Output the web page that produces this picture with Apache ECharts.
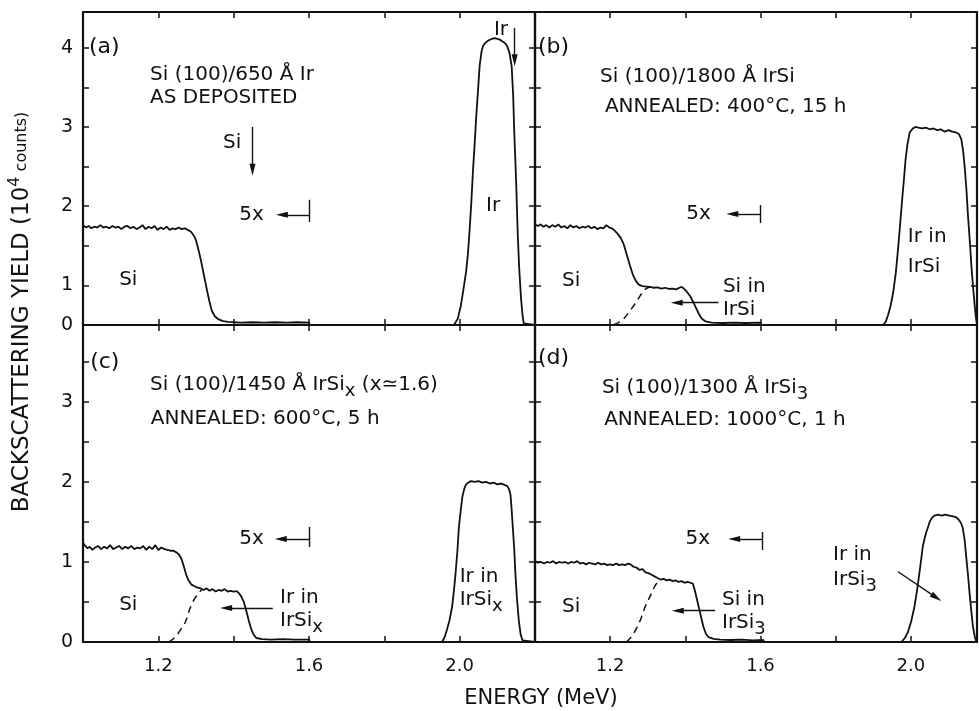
<!DOCTYPE html>
<html>
<head>
<meta charset="utf-8">
<script src="https://cdn.jsdelivr.net/npm/echarts@6/dist/echarts.min.js"></script>
<style>
  html, body { margin: 0; padding: 0; background: #fff; }
  #chart { width: 979px; height: 711px; }
</style>
</head>
<body>
<div id="chart"></div>
<script>
// ---- axis ticks / labels ----
var xTicks = [1.2, 1.4, 1.6, 1.8, 2.0];
var xLabels = [1.2, 1.6, 2.0];
var yTicks = [0.5, 1, 1.5, 2, 2.5, 3, 3.5];
// upper panels: the printed labels sit half a step higher than in the lower ones
var topYLabelAt = [0, 0.5, 1.5, 2.5, 3.5];
var topYLabelText = ['0', '1', '2', '3', '4'];
var bottomYLabelAt = [0, 1, 2, 3];
var bottomYLabelText = ['0', '1', '2', '3'];

// ---- spectra: [energy MeV, yield 10^4 counts] ----
// (a) Si(100)/650 A Ir, as deposited
var specA = [
  [1.000, 1.26], [1.008, 1.23], [1.015, 1.25], [1.022, 1.22], [1.030, 1.24], [1.038, 1.23],
  [1.046, 1.26], [1.054, 1.23], [1.062, 1.24], [1.070, 1.22], [1.078, 1.25], [1.086, 1.23],
  [1.094, 1.24], [1.102, 1.21], [1.110, 1.24], [1.118, 1.25], [1.126, 1.22], [1.134, 1.24],
  [1.142, 1.21], [1.150, 1.23], [1.158, 1.26], [1.166, 1.21], [1.174, 1.24], [1.182, 1.22],
  [1.190, 1.25], [1.198, 1.20], [1.206, 1.23], [1.214, 1.21], [1.222, 1.24], [1.230, 1.20],
  [1.238, 1.22], [1.246, 1.21], [1.254, 1.23], [1.262, 1.21], [1.270, 1.22], [1.278, 1.20],
  [1.286, 1.18], [1.294, 1.13], [1.300, 1.07], [1.306, 0.96], [1.312, 0.84], [1.318, 0.70],
  [1.324, 0.56], [1.330, 0.42], [1.336, 0.29], [1.342, 0.18], [1.350, 0.11], [1.360, 0.07],
  [1.372, 0.05], [1.385, 0.04], [1.400, 0.035], [1.420, 0.03], [1.450, 0.035], [1.480, 0.03],
  [1.510, 0.035], [1.540, 0.03], [1.570, 0.035], [1.600, 0.03], [1.602, 0], [1.985, 0],
  [1.995, 0.08], [2.003, 0.24], [2.010, 0.45], [2.017, 0.67], [2.022, 0.90], [2.026, 1.17],
  [2.031, 1.55], [2.035, 1.92], [2.040, 2.30], [2.044, 2.63], [2.049, 2.98], [2.053, 3.27],
  [2.058, 3.45], [2.062, 3.52], [2.068, 3.56], [2.076, 3.59], [2.085, 3.61], [2.094, 3.62],
  [2.100, 3.61], [2.107, 3.60], [2.113, 3.58], [2.120, 3.56], [2.126, 3.52], [2.132, 3.44],
  [2.138, 3.27], [2.142, 2.90], [2.145, 2.43], [2.150, 1.80], [2.154, 1.17], [2.158, 0.72],
  [2.163, 0.33], [2.167, 0.12], [2.170, 0.02], [2.175, 0], [2.200, 0]
];

// (b) Si(100)/1800 A IrSi, 400 C 15 h
var specB = [
  [1.000, 1.27], [1.008, 1.25], [1.015, 1.27], [1.022, 1.24], [1.030, 1.26], [1.038, 1.23],
  [1.046, 1.26], [1.054, 1.24], [1.062, 1.27], [1.070, 1.23], [1.078, 1.25], [1.086, 1.22],
  [1.094, 1.26], [1.102, 1.23], [1.110, 1.25], [1.118, 1.22], [1.126, 1.24], [1.134, 1.23],
  [1.142, 1.25], [1.150, 1.22], [1.158, 1.24], [1.166, 1.21], [1.174, 1.23], [1.182, 1.22],
  [1.190, 1.26], [1.198, 1.23], [1.205, 1.22], [1.212, 1.19], [1.220, 1.15], [1.228, 1.10],
  [1.236, 1.02], [1.244, 0.89], [1.252, 0.76], [1.260, 0.64], [1.268, 0.56], [1.276, 0.51],
  [1.286, 0.49], [1.296, 0.485], [1.306, 0.48], [1.316, 0.47], [1.326, 0.475], [1.336, 0.46],
  [1.346, 0.47], [1.356, 0.455], [1.366, 0.46], [1.376, 0.45], [1.384, 0.47], [1.390, 0.48],
  [1.396, 0.46], [1.404, 0.42], [1.412, 0.37], [1.420, 0.30], [1.428, 0.22], [1.436, 0.14],
  [1.444, 0.08], [1.454, 0.045], [1.470, 0.03], [1.500, 0.025], [1.530, 0.03], [1.560, 0.025],
  [1.600, 0.03], [1.602, 0], [1.926, 0], [1.933, 0.04], [1.939, 0.12], [1.946, 0.24],
  [1.953, 0.41], [1.960, 0.66], [1.966, 0.96], [1.972, 1.30], [1.977, 1.59], [1.982, 1.86],
  [1.986, 2.09], [1.991, 2.28], [1.997, 2.43], [2.005, 2.48], [2.012, 2.50], [2.020, 2.49],
  [2.030, 2.48], [2.040, 2.49], [2.050, 2.47], [2.060, 2.48], [2.070, 2.46], [2.080, 2.47],
  [2.090, 2.44], [2.100, 2.46], [2.110, 2.44], [2.120, 2.43], [2.128, 2.41], [2.134, 2.35],
  [2.139, 2.20], [2.143, 2.01], [2.148, 1.70], [2.152, 1.38], [2.157, 1.05], [2.161, 0.75],
  [2.166, 0.45], [2.170, 0.24], [2.173, 0.10], [2.176, 0]
];
var dashB = [
  [1.209, 0], [1.222, 0.03], [1.236, 0.076], [1.250, 0.16], [1.262, 0.24], [1.272, 0.31],
  [1.280, 0.37], [1.287, 0.42], [1.293, 0.45], [1.300, 0.47], [1.307, 0.48]
];

// (c) Si(100)/1450 A IrSix, 600 C 5 h
var specC = [
  [1.000, 1.24], [1.006, 1.20], [1.012, 1.17], [1.018, 1.19], [1.025, 1.15], [1.032, 1.18],
  [1.040, 1.20], [1.048, 1.16], [1.056, 1.19], [1.064, 1.17], [1.072, 1.21], [1.080, 1.16],
  [1.088, 1.18], [1.096, 1.20], [1.104, 1.16], [1.112, 1.19], [1.120, 1.17], [1.128, 1.20],
  [1.136, 1.16], [1.144, 1.18], [1.152, 1.17], [1.160, 1.20], [1.168, 1.15], [1.176, 1.19],
  [1.184, 1.16], [1.192, 1.21], [1.200, 1.15], [1.208, 1.18], [1.216, 1.16], [1.224, 1.15],
  [1.232, 1.14], [1.240, 1.14], [1.248, 1.12], [1.255, 1.09], [1.262, 1.03], [1.268, 0.94],
  [1.274, 0.84], [1.280, 0.77], [1.287, 0.72], [1.295, 0.70], [1.304, 0.68], [1.312, 0.67],
  [1.320, 0.65], [1.328, 0.67], [1.336, 0.64], [1.344, 0.66], [1.352, 0.63], [1.360, 0.65],
  [1.368, 0.64], [1.376, 0.66], [1.384, 0.63], [1.392, 0.64], [1.400, 0.63], [1.408, 0.635],
  [1.414, 0.61], [1.420, 0.57], [1.427, 0.50], [1.434, 0.38], [1.440, 0.27], [1.446, 0.17],
  [1.452, 0.10], [1.460, 0.05], [1.475, 0.035], [1.500, 0.03], [1.530, 0.035], [1.560, 0.03],
  [1.600, 0.03], [1.602, 0], [1.953, 0], [1.960, 0.06], [1.966, 0.15], [1.973, 0.27],
  [1.980, 0.44], [1.985, 0.65], [1.989, 0.85], [1.994, 1.14], [1.998, 1.44], [2.003, 1.65],
  [2.007, 1.81], [2.012, 1.91], [2.016, 1.96], [2.022, 1.99], [2.030, 2.01], [2.040, 2.00],
  [2.050, 2.01], [2.060, 1.99], [2.070, 2.00], [2.080, 1.98], [2.090, 1.99], [2.100, 1.97],
  [2.110, 1.98], [2.120, 1.96], [2.126, 1.95], [2.131, 1.91], [2.135, 1.84], [2.138, 1.65],
  [2.141, 1.44], [2.145, 1.15], [2.148, 0.85], [2.152, 0.55], [2.157, 0.27], [2.162, 0.09],
  [2.167, 0.02], [2.172, 0], [2.200, 0]
];
var dashC = [
  [1.228, 0], [1.240, 0.04], [1.253, 0.11], [1.263, 0.18], [1.271, 0.24], [1.276, 0.30],
  [1.280, 0.36], [1.285, 0.43], [1.289, 0.48], [1.296, 0.54], [1.302, 0.58], [1.308, 0.62],
  [1.315, 0.65]
];

// (d) Si(100)/1300 A IrSi3, 1000 C 1 h
var specD = [
  [1.000, 1.01], [1.008, 0.99], [1.016, 1.00], [1.024, 0.98], [1.032, 1.00], [1.040, 0.99],
  [1.048, 1.01], [1.056, 0.98], [1.064, 1.00], [1.072, 0.99], [1.080, 1.00], [1.088, 0.98],
  [1.096, 1.00], [1.104, 0.99], [1.112, 1.01], [1.120, 0.98], [1.128, 0.99], [1.136, 0.97],
  [1.144, 0.99], [1.152, 0.98], [1.160, 0.97], [1.168, 0.99], [1.176, 0.97], [1.184, 0.98],
  [1.192, 0.96], [1.200, 0.97], [1.208, 0.96], [1.216, 0.98], [1.224, 0.96], [1.232, 0.97],
  [1.240, 0.96], [1.248, 0.98], [1.254, 0.97], [1.262, 0.94], [1.270, 0.93], [1.278, 0.90],
  [1.286, 0.91], [1.294, 0.87], [1.302, 0.86], [1.310, 0.84], [1.318, 0.82], [1.326, 0.80],
  [1.334, 0.78], [1.342, 0.79], [1.350, 0.77], [1.358, 0.78], [1.366, 0.76], [1.374, 0.77],
  [1.382, 0.75], [1.390, 0.76], [1.398, 0.74], [1.406, 0.75], [1.414, 0.74], [1.420, 0.73],
  [1.425, 0.65], [1.430, 0.55], [1.436, 0.43], [1.442, 0.31], [1.448, 0.19], [1.455, 0.10],
  [1.462, 0.06], [1.475, 0.04], [1.493, 0.03], [1.520, 0.025], [1.550, 0.03], [1.580, 0.02],
  [1.607, 0.025], [1.610, 0], [1.975, 0], [1.984, 0.05], [1.992, 0.12], [2.001, 0.26],
  [2.010, 0.45], [2.017, 0.66], [2.023, 0.87], [2.028, 1.05], [2.032, 1.20], [2.037, 1.30],
  [2.041, 1.37], [2.046, 1.44], [2.050, 1.50], [2.056, 1.55], [2.063, 1.58], [2.072, 1.59],
  [2.082, 1.58], [2.092, 1.59], [2.102, 1.58], [2.112, 1.57], [2.120, 1.56], [2.127, 1.53],
  [2.133, 1.49], [2.138, 1.43], [2.143, 1.28], [2.147, 1.08], [2.152, 0.84], [2.156, 0.62],
  [2.161, 0.38], [2.165, 0.20], [2.170, 0.07], [2.174, 0], [2.176, 0]
];
var dashD = [
  [1.243, 0], [1.252, 0.04], [1.262, 0.10], [1.271, 0.18], [1.280, 0.27], [1.287, 0.36],
  [1.293, 0.44], [1.300, 0.51], [1.307, 0.58], [1.314, 0.65], [1.320, 0.71], [1.327, 0.75],
  [1.333, 0.78]
];

// ---- annotations: [panel, energy, yield, text, align] ----
var notes = [
  [0, 1.016, 3.51, '(a)', 'left'],
  [0, 1.178, 3.155, 'Si (100)/650 Å Ir', 'left'],
  [0, 1.178, 2.865, 'AS DEPOSITED', 'left'],
  [0, 1.372, 2.30, 'Si', 'left'],
  [0, 1.480, 1.39, '5x', 'right'],
  [0, 1.096, 0.57, 'Si', 'left'],
  [0, 2.091, 3.72, 'Ir', 'left'],
  [0, 2.070, 1.51, 'Ir', 'left'],

  [1, 1.008, 3.51, '(b)', 'left'],
  [1, 1.173, 3.13, 'Si (100)/1800 Å IrSi', 'left'],
  [1, 1.186, 2.75, 'ANNEALED: 400°C, 15 h', 'left'],
  [1, 1.468, 1.40, '5x', 'right'],
  [1, 1.072, 0.555, 'Si', 'left'],
  [1, 1.500, 0.48, 'Si in', 'left'],
  [1, 1.500, 0.19, 'IrSi', 'left'],
  [1, 1.992, 1.11, 'Ir in', 'left'],
  [1, 1.992, 0.73, 'IrSi', 'left'],

  [2, 1.019, 3.50, '(c)', 'left'],
  [2, 1.178, 3.21, 'Si (100)/1450 Å IrSi{sub|x} (x≃1.6)', 'left'],
  [2, 1.180, 2.786, 'ANNEALED: 600°C, 5 h', 'left'],
  [2, 1.480, 1.287, '5x', 'right'],
  [2, 1.096, 0.46, 'Si', 'left'],
  [2, 1.523, 0.55, 'Ir in', 'left'],
  [2, 1.523, 0.262, 'IrSi{sub|x}', 'left'],
  [2, 2.000, 0.81, 'Ir in', 'left'],
  [2, 2.000, 0.525, 'IrSi{sub|x}', 'left'],

  [3, 1.008, 3.55, '(d)', 'left'],
  [3, 1.178, 3.17, 'Si (100)/1300 Å IrSi{sub|3}', 'left'],
  [3, 1.184, 2.773, 'ANNEALED: 1000°C, 1 h', 'left'],
  [3, 1.466, 1.287, '5x', 'right'],
  [3, 1.072, 0.437, 'Si', 'left'],
  [3, 1.4975, 0.525, 'Si in', 'left'],
  [3, 1.4975, 0.237, 'IrSi{sub|3}', 'left'],
  [3, 1.793, 1.087, 'Ir in', 'left'],
  [3, 1.793, 0.775, 'IrSi{sub|3}', 'left']
];

// ---- arrows / markers: [panel, e1, y1, e2, y2, arrowhead at end] ----
var arrows = [
  [0, 1.450, 2.50, 1.450, 1.96, true],
  [0, 1.600, 1.58, 1.600, 1.30, false],
  [0, 1.600, 1.39, 1.528, 1.39, true],
  [0, 2.146, 3.75, 2.146, 3.34, true],

  [1, 1.600, 1.514, 1.600, 1.287, false],
  [1, 1.600, 1.40, 1.525, 1.40, true],
  [1, 1.488, 0.281, 1.377, 0.281, true],

  [2, 1.600, 1.437, 1.600, 1.187, false],
  [2, 1.600, 1.287, 1.525, 1.287, true],
  [2, 1.504, 0.425, 1.380, 0.425, true],

  [3, 1.605, 1.374, 1.605, 1.149, false],
  [3, 1.605, 1.287, 1.530, 1.287, true],
  [3, 1.479, 0.391, 1.380, 0.391, true],
  [3, 1.966, 0.878, 2.068, 0.555, true]
];

var INK = '#111';
var FONT = '"DejaVu Sans", sans-serif';

var panels = [
  { spec: specA, dash: null,  grid: { left: 83,  top: 12,  width: 452, height: 313 }, xMax: 2.2,   yMax: 3.95, xLab: false, yAt: topYLabelAt,    yText: topYLabelText },
  { spec: specB, dash: dashB, grid: { left: 535, top: 12,  width: 442, height: 313 }, xMax: 2.176, yMax: 3.95, xLab: false, yAt: null },
  { spec: specC, dash: dashC, grid: { left: 83,  top: 325, width: 452, height: 317 }, xMax: 2.2,   yMax: 3.96, xLab: true,  yAt: bottomYLabelAt, yText: bottomYLabelText },
  { spec: specD, dash: dashD, grid: { left: 535, top: 325, width: 442, height: 317 }, xMax: 2.176, yMax: 3.96, xLab: true,  yAt: null }
];

function xAxisFor(i, p, pos) {
  return {
    type: 'value', gridIndex: i, position: pos, min: 1.0, max: p.xMax,
    axisLine: { onZero: false, lineStyle: { color: INK, width: 2.2 } },
    axisTick: { inside: true, length: 6, customValues: xTicks, lineStyle: { color: INK, width: 1.5 } },
    axisLabel: {
      show: pos === 'bottom' && p.xLab, customValues: xLabels,
      formatter: function (v) { return v.toFixed(1); },
      color: INK, fontSize: 18, fontFamily: FONT, margin: 15
    },
    splitLine: { show: false }
  };
}

function yAxisFor(i, p, pos) {
  var withLabels = pos === 'left' && p.yAt;
  return {
    type: 'value', gridIndex: i, position: pos, min: 0, max: p.yMax,
    axisLine: { onZero: false, lineStyle: { color: INK, width: 2.2 } },
    axisTick: { inside: true, length: 6, customValues: yTicks, lineStyle: { color: INK, width: 1.5 } },
    axisLabel: withLabels ? {
      show: true, customValues: p.yAt,
      formatter: function (v) { return p.yText[p.yAt.indexOf(v)]; },
      color: INK, fontSize: 19, fontFamily: FONT, margin: 10
    } : { show: false },
    splitLine: { show: false }
  };
}

var grids = [], xAxes = [], yAxes = [], series = [], mainSeries = [];
panels.forEach(function (p, i) {
  grids.push(p.grid);
  xAxes.push(xAxisFor(i, p, 'bottom'), xAxisFor(i, p, 'top'));
  yAxes.push(yAxisFor(i, p, 'left'), yAxisFor(i, p, 'right'));

  var marks = arrows.filter(function (a) { return a[0] === i; }).map(function (a) {
    return [
      { coord: [a[1], a[2]], symbol: 'none' },
      { coord: [a[3], a[4]], symbol: a[5] ? 'triangle' : 'none', symbolSize: [6, 12] }
    ];
  });

  mainSeries.push(series.length);
  series.push({
    type: 'line', xAxisIndex: 2 * i, yAxisIndex: 2 * i, data: p.spec,
    symbol: 'none', silent: true,
    lineStyle: { color: INK, width: 1.8 },
    markLine: {
      silent: true, symbol: 'none', animation: false,
      label: { show: false },
      lineStyle: { color: INK, width: 1.4, type: 'solid' },
      itemStyle: { color: INK },
      data: marks
    }
  });
  if (p.dash) {
    series.push({
      type: 'line', xAxisIndex: 2 * i, yAxisIndex: 2 * i, data: p.dash,
      symbol: 'none', silent: true,
      lineStyle: { color: INK, width: 1.5, type: [7, 5] }
    });
  }
});

var myChart = echarts.init(document.getElementById('chart'));
myChart.setOption({
  animation: false,
  backgroundColor: '#fff',
  textStyle: { fontFamily: FONT },
  grid: grids,
  xAxis: xAxes,
  yAxis: yAxes,
  series: series
});

// place the texts through each panel's own scales
var subRich = {
  sub: { fontSize: 18, fontFamily: FONT, fill: INK, padding: [12, 0, 0, 0] }
};
var elements = notes.map(function (n) {
  var pt = myChart.convertToPixel({ seriesIndex: mainSeries[n[0]] }, [n[1], n[2]]);
  var isTag = n[3].charAt(0) === '(';
  return {
    type: 'text', x: pt[0], y: pt[1], silent: true,
    style: {
      text: n[3], fill: INK, fontSize: isTag ? 22 : 20, fontFamily: FONT,
      align: n[4], verticalAlign: 'middle', rich: subRich
    }
  };
});

elements.push({
  type: 'text', x: 22, y: 312, rotation: Math.PI / 2, silent: true,
  style: {
    text: '{m|BACKSCATTERING YIELD (10}{s|4}{c| counts)}',
    align: 'center', verticalAlign: 'middle', fill: INK,
    rich: {
      m: { fontSize: 23, fontFamily: FONT, fill: INK },
      s: { fontSize: 16, fontFamily: FONT, fill: INK, padding: [0, 0, 14, 0] },
      c: { fontSize: 16, fontFamily: FONT, fill: INK }
    }
  }
});
elements.push({
  type: 'text', x: 541, y: 699, silent: true,
  style: {
    text: 'ENERGY (MeV)', align: 'center', verticalAlign: 'middle',
    fill: INK, fontSize: 21, fontFamily: FONT
  }
});

myChart.setOption({ graphic: { elements: elements } });

window.addEventListener('resize', function () {
  myChart.resize();
});
</script>
</body>
</html>
